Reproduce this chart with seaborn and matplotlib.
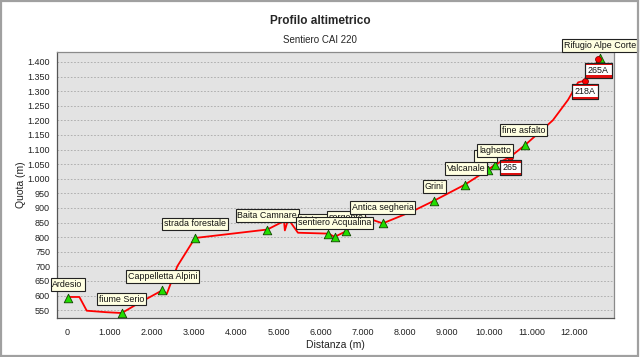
import matplotlib
matplotlib.use("Agg")
import matplotlib.pyplot as plt
import seaborn as sns
import pandas as pd
from matplotlib.patches import Rectangle
from matplotlib.transforms import IdentityTransform
from matplotlib.ticker import FuncFormatter, MultipleLocator

# ---- data ----
profile_dist = [0, 280, 455, 900, 1285, 1640, 2246, 2350, 2600, 3020, 4735, 5130,
                5150, 5230, 5460, 6180, 6330, 6600, 7010, 7470, 8195, 8690, 9420,
                9957, 10130, 10490, 10840, 11500, 11860, 12100, 12265, 12600]
profile_elev = [595, 595, 548, 543, 540, 570, 618, 605, 700, 797, 826, 855,
                823, 862, 815, 812, 801, 820, 870, 847, 890, 925, 980,
                1030, 1048, 1075, 1115, 1200, 1270, 1330, 1336, 1410]

poi_names = ["Ardesio", "fiume Serio", "Cappelletta Alpini", "strada forestale",
             "Baita Camnare", "bivio sentiero", "sorgente", "sentiero Acqualina",
             "Antica segheria", "Grini", "Valcanale", "Bivio", "laghetto",
             "fine asfalto", "Rifugio Alpe Corte"]
poi_dist = [0, 1285, 2246, 3020, 4735, 6180, 6600, 6330, 7470, 8690, 9420, 9957,
            10130, 10840, 12620]
poi_elev = [590, 540, 618, 797, 826, 810, 820, 801, 847, 925, 980, 1030, 1048,
            1115, 1412]

trail_names = ["265", "218A", "265A"]
trail_dist = [10490, 12265, 12580]
trail_elev = [1075, 1336, 1409]

title = "Profilo altimetrico"
subtitle = "Sentiero CAI 220"
xlabel = "Distanza (m)"
ylabel = "Quota (m)"

# ---- style ----
sns.set_style("white")
plt.rcParams["font.family"] = ["Liberation Sans", "DejaVu Sans"]

W, H = 640, 357
fig = plt.figure(figsize=(W / 100, H / 100), dpi=100)
fig.patch.set_facecolor("white")
L, R, T, B = 57, 614, 52, 318
ax = fig.add_axes([L / W, 1 - B / H, (R - L) / W, (B - T) / H])
ax.set_facecolor("#e3e3e3")

prof = pd.DataFrame({"dist": profile_dist, "elev": profile_elev})
poi = pd.DataFrame({"dist": poi_dist, "elev": poi_elev, "name": poi_names})
trail = pd.DataFrame({"dist": trail_dist, "elev": trail_elev, "name": trail_names})

sns.lineplot(data=prof, x="dist", y="elev", sort=False, estimator=None,
             color="#ff0000", lw=1.3, ax=ax, zorder=3)
sns.scatterplot(data=poi, x="dist", y="elev", marker="^", s=38, color="#22dd00",
                edgecolor="#114400", linewidth=0.6, ax=ax, zorder=4)
sns.scatterplot(data=trail, x="dist", y="elev", marker="o", s=18, color="#ff0000",
                edgecolor="#880000", linewidth=0.6, ax=ax, zorder=4)

ax.set_xlim(-250, 12950)
ax.set_ylim(523, 1434)
ax.xaxis.set_major_locator(MultipleLocator(1000))
ax.yaxis.set_major_locator(MultipleLocator(50))
fmt = FuncFormatter(lambda v, p: f"{v:,.0f}".replace(",", "."))
ax.xaxis.set_major_formatter(fmt)
ax.yaxis.set_major_formatter(fmt)
ax.tick_params(axis="both", labelsize=6.5, length=3, width=0.7, color="#444444",
               labelcolor="#222222", pad=2, direction="out")
ax.tick_params(axis="x", pad=4)
ax.grid(axis="y", color="#a8a8a8", linestyle=(0, (2, 2)), lw=0.6)
ax.grid(axis="x", visible=False)
ax.set_axisbelow(True)
for s in ["left", "bottom"]:
    ax.spines[s].set_color("#555555")
    ax.spines[s].set_linewidth(0.9)
for s in ["top", "right"]:
    ax.spines[s].set_color("#8a8a8a")
    ax.spines[s].set_linewidth(0.9)

ax.set_xlabel(xlabel, fontsize=7.5, color="#222222")
ax.set_ylabel(ylabel, fontsize=7.5, color="#222222")
ax.yaxis.set_label_coords((26 - L) / (R - L), 0.5)
ax.xaxis.set_label_coords(0.5, -(340 - B) / (B - T))

fig.text(0.5, 1 - 21 / H, title, ha="center", va="center", fontsize=8.5,
         fontweight="bold")
fig.text(0.5, 1 - 40 / H, subtitle, ha="center", va="center", fontsize=7)

# ---- labels ----
offsets = {"Antica segheria": (0, 16), "Valcanale": (1, 16), "Bivio": (-2, 14),
           "fine asfalto": (-1, 15), "Rifugio Alpe Corte": (0, 13),
           "bivio sentiero": (-2, 14)}
zorders = {"bivio sentiero": 5, "sorgente": 5.5, "sentiero Acqualina": 6,
           "Antica segheria": 6.5, "Bivio": 5, "laghetto": 6}
for n, x, y in zip(poi_names, poi_dist, poi_elev):
    dx, dy = offsets.get(n, (0, 14))
    ax.annotate(n, (x, y), xytext=(dx, dy), textcoords="offset pixels",
                ha="center", va="center", fontsize=6.4, color="#111111",
                annotation_clip=False, clip_on=False,
                zorder=zorders.get(n, 5),
                bbox=dict(boxstyle="square,pad=0.2", fc="#ffffe1", ec="#222222",
                          lw=0.8))

trail_texts = []
for n, x, y in zip(trail_names, trail_dist, trail_elev):
    t = ax.annotate(n, (x, y), xytext=(0, -11), textcoords="offset pixels",
                    ha="center", va="center", fontsize=6.4, color="#111111",
                    annotation_clip=False, zorder=7,
                    bbox=dict(boxstyle="square,pad=0.32", fc="white", ec="#222222",
                              lw=0.8))
    trail_texts.append(t)

fig.canvas.draw()
renderer = fig.canvas.get_renderer()
for t in trail_texts:
    bb = t.get_bbox_patch().get_window_extent(renderer)
    band = 2.2
    for y0 in (bb.y0, bb.y1 - band):
        fig.add_artist(Rectangle((bb.x0, y0), bb.width, band, transform=IdentityTransform(),
                                 fc="#e01010", ec="none", zorder=8))
    fig.add_artist(Rectangle((bb.x0, bb.y0), bb.width, bb.height,
                             transform=IdentityTransform(), fc="none",
                             ec="#222222", lw=0.8, zorder=9))

fig.add_artist(Rectangle((0.001, 0.002), 0.996, 0.995, transform=fig.transFigure,
                         fc="none", ec="#a0a0a0", lw=1.6))

fig.savefig("out.png", dpi=100)
